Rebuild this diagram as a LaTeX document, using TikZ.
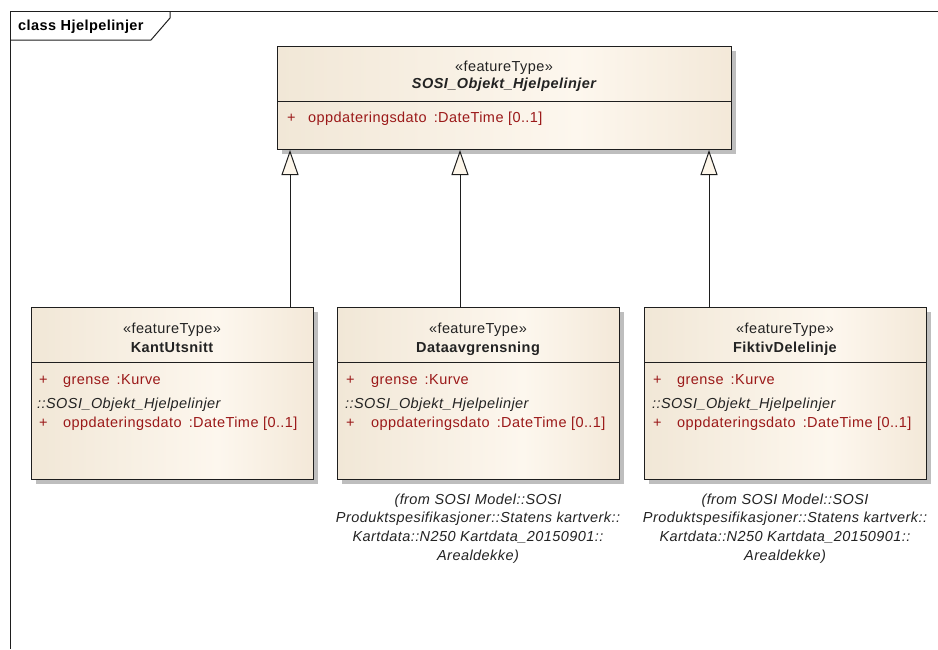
\documentclass[tikz,border=0pt]{standalone}
\usepackage{fontspec}
\setmainfont{Liberation Sans}[LetterSpace=3]
\usetikzlibrary{arrows.meta,shadows}

\definecolor{tanL}{RGB}{232,219,197}
\definecolor{tanM}{RGB}{253,247,238}
\definecolor{tanR}{RGB}{229,211,185}
\definecolor{boxline}{RGB}{30,30,30}
\definecolor{shadowc}{RGB}{190,190,190}
\definecolor{attrred}{RGB}{155,25,25}
\definecolor{darktext}{RGB}{35,35,35}
\definecolor{arrowfill}{RGB}{253,246,234}

% class body fill: tan at the sides, pale cream a little right of centre
\pgfdeclarehorizontalshading{classfill}{100bp}{color(0bp)=(tanL); color(58bp)=(tanM); color(100bp)=(tanR)}

\newcommand{\umlfont}{\fontsize{14.5}{18.7}\selectfont}

\begin{document}
\begin{tikzpicture}[x=1pt,y=-1pt,
  classbox/.style={rectangle, draw=boxline, line width=1pt, anchor=north west,
    inner sep=0pt, shading=classfill,
    drop shadow={shadow xshift=4pt, shadow yshift=-4pt, fill=shadowc, opacity=1}},
  divider/.style={draw=boxline, line width=1pt},
  stereo/.style={anchor=base, inner sep=0pt, font=\umlfont, text=darktext},
  cname/.style={anchor=base, inner sep=0pt, font=\umlfont\bfseries, text=darktext},
  attr/.style={anchor=base west, inner sep=0pt, font=\umlfont, text=attrred},
  inherited/.style={anchor=base west, inner sep=0pt, font=\umlfont\itshape, text=darktext},
  origin/.style={anchor=north, inner sep=0pt, align=center, font=\umlfont\itshape, text=darktext},
  gen/.style={draw=boxline, line width=1pt, -{Triangle[length=25pt,width=17pt,fill=arrowfill]}},
  frameline/.style={draw=boxline, line width=1pt}]

\useasboundingbox (0,0) rectangle (938,649);

% diagram frame with its name tab
\draw[frameline] (938,11) -- (10,11) -- (10,649);
\draw[frameline] (10,40) -- (151,40) -- (170,18) -- (170,11);
\node[anchor=base west, inner sep=0pt, font=\umlfont\bfseries] (title) at (18,30.5) {class Hjelpelinjer};

% abstract supertype
\node[classbox, minimum width=454pt, minimum height=103pt] (base) at (277,46) {};
\draw[divider] (base.west |- 0,101) -- (base.east |- 0,101);
\node[stereo] (basest) at (504,71) {«featureType»};
\node[cname, font=\umlfont\bfseries\itshape] (basename) at (504,88.3) {SOSI\_Objekt\_Hjelpelinjer};
\node[attr] (baseplus) at (287,122.7) {+};
\node[attr] (baseattr) at (308,122.7) {oppdateringsdato\hspace{7pt}:DateTime [0..1]};

% KantUtsnitt
\node[classbox, minimum width=282pt, minimum height=172pt] (kant) at (31,307) {};
\draw[divider] (kant.west |- 0,362) -- (kant.east |- 0,362);
\node[stereo] (kantst) at (172,333.3) {«featureType»};
\node[cname] (kantname) at (172,352.3) {KantUtsnitt};
\node[attr] (kantp1) at (39,384) {+};
\node[attr] (kanta1) at (63,384) {grense\hspace{7pt}:Kurve};
\node[inherited] (kantinh) at (37,408.3) {::SOSI\_Objekt\_Hjelpelinjer};
\node[attr] (kantp2) at (39,427.7) {+};
\node[attr] (kanta2) at (63,427.7) {oppdateringsdato\hspace{7pt}:DateTime [0..1]};

% Dataavgrensning
\node[classbox, minimum width=282pt, minimum height=172pt] (data) at (337,307) {};
\draw[divider] (data.west |- 0,362) -- (data.east |- 0,362);
\node[stereo] (datast) at (478,333.3) {«featureType»};
\node[cname] (dataname) at (478,352.3) {Dataavgrensning};
\node[attr] (datap1) at (346,384) {+};
\node[attr] (dataa1) at (371,384) {grense\hspace{7pt}:Kurve};
\node[inherited] (datainh) at (345,408.3) {::SOSI\_Objekt\_Hjelpelinjer};
\node[attr] (datap2) at (346,427.7) {+};
\node[attr] (dataa2) at (371,427.7) {oppdateringsdato\hspace{7pt}:DateTime [0..1]};
\node[origin] (datafrom) at (478,493.5) {(from SOSI Model::SOSI\\Produktspesifikasjoner::Statens kartverk::\\Kartdata::N250 Kartdata\_20150901::\\Arealdekke)};

% FiktivDelelinje
\node[classbox, minimum width=282pt, minimum height=172pt] (fiktiv) at (644,307) {};
\draw[divider] (fiktiv.west |- 0,362) -- (fiktiv.east |- 0,362);
\node[stereo] (fiktivst) at (785,333.3) {«featureType»};
\node[cname] (fiktivname) at (785,352.3) {FiktivDelelinje};
\node[attr] (fiktivp1) at (653,384) {+};
\node[attr] (fiktiva1) at (677,384) {grense\hspace{7pt}:Kurve};
\node[inherited] (fiktivinh) at (652,408.3) {::SOSI\_Objekt\_Hjelpelinjer};
\node[attr] (fiktivp2) at (653,427.7) {+};
\node[attr] (fiktiva2) at (677,427.7) {oppdateringsdato\hspace{7pt}:DateTime [0..1]};
\node[origin] (fiktivfrom) at (785,493.5) {(from SOSI Model::SOSI\\Produktspesifikasjoner::Statens kartverk::\\Kartdata::N250 Kartdata\_20150901::\\Arealdekke)};

% generalizations
\coordinate (g1) at (290,0);
\coordinate (g2) at (460,0);
\coordinate (g3) at (709,0);
\draw[gen] (kant.north -| g1) -- (base.south -| g1);
\draw[gen] (data.north -| g2) -- (base.south -| g2);
\draw[gen] (fiktiv.north -| g3) -- (base.south -| g3);

\end{tikzpicture}
\end{document}
